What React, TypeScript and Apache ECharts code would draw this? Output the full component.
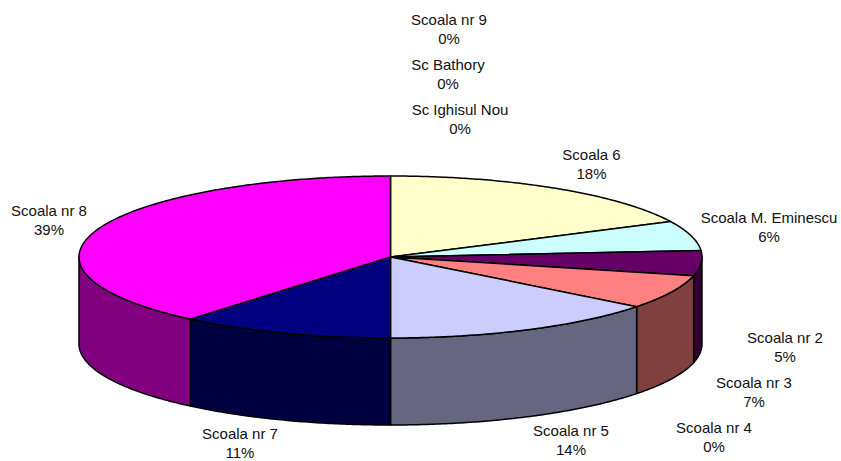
import React, { useEffect, useRef } from "react";
import * as echarts from "echarts";

const schools = ["Scoala 6", "Scoala M. Eminescu", "Scoala nr 2", "Scoala nr 3", "Scoala nr 4", "Scoala nr 5", "Scoala nr 7", "Scoala nr 8", "Sc Ighisul Nou", "Sc Bathory", "Scoala nr 9"];
const shares = [17.8, 5.9, 5.0, 6.8, 0, 14.5, 11.1, 38.9, 0, 0, 0];
const topColors = ["#FFFFCC", "#CCFFFF", "#660066", "#FF8080", "#9999FF", "#CCCCFF", "#000080", "#FF00FF", "#FF0000", "#00FF00", "#0000FF"];
const sideColors = ["#808066", "#668080", "#330033", "#804040", "#4C4C80", "#666680", "#000040", "#800080", "#800000", "#008000", "#000080"];
const labelCentersX = [591.5, 769, 785, 754, 714, 571, 240, 49, 460, 448, 449];
const labelCentersY = [163.5, 226.5, 346.5, 391.5, 436.5, 439.5, 442.5, 219.5, 118.5, 73.5, 28.5];

const CX = 390.5;
const CY = 257;
const RX = 311.5;
const RY = 81;
const DEPTH = 87;
const total = shares.reduce((a, b) => a + b, 0);

const arc = (from: number, to: number, dy: number) => {
  const pts: number[][] = [];
  const n = Math.max(2, Math.ceil(Math.abs(to - from) / 0.01));
  for (let i = 0; i <= n; i++) {
    const t = from + ((to - from) * i) / n;
    pts.push([CX + RX * Math.sin(t), CY - RY * Math.cos(t) + dy]);
  }
  return pts;
};

const renderSlice = (params: any, api: any) => {
  const i = params.dataIndex;
  const value = api.value(0) as number;
  const before = shares.slice(0, i).reduce((a, b) => a + b, 0);
  const start = (before / total) * 2 * Math.PI;
  const end = ((before + value) / total) * 2 * Math.PI;
  const children: any[] = [];
  const lineStyle = { stroke: "#000", lineWidth: 1.5, lineJoin: "round" };
  if (value > 0) {
    const a = Math.max(start, Math.PI / 2);
    const b = Math.min(end, (3 * Math.PI) / 2);
    if (b > a) {
      children.push({
        type: "polygon",
        shape: { points: [...arc(a, b, 0), ...arc(b, a, DEPTH)] },
        style: { fill: sideColors[i], ...lineStyle },
      });
    }
    children.push({
      type: "polygon",
      shape: { points: [[CX, CY], ...arc(start, end, 0)] },
      style: { fill: topColors[i], ...lineStyle },
    });
  }
  children.push({
    type: "text",
    x: labelCentersX[i],
    y: labelCentersY[i],
    style: {
      text: `${schools[i]}\n${Math.round((value / total) * 100)}%`,
      fill: "#111",
      font: "15px 'Liberation Sans', Arial, sans-serif",
      lineHeight: 19,
      align: "center",
      verticalAlign: "middle",
    },
  });
  return { type: "group", children };
};

export default function App() {
  const ref = useRef<HTMLDivElement>(null);
  useEffect(() => {
    const chart = echarts.init(ref.current!, null, { renderer: "svg" });
    chart.setOption({
      animation: false,
      backgroundColor: "#fff",
      series: [
        {
          type: "custom",
          coordinateSystem: "none",
          clip: false,
          renderItem: renderSlice,
          data: schools.map((name, i) => ({ name, value: [shares[i]] })),
        },
      ],
    });
    return () => chart.dispose();
  }, []);
  return <div ref={ref} style={{ position: "fixed", left: 0, top: 0, width: 841, height: 461 }} />;
}
